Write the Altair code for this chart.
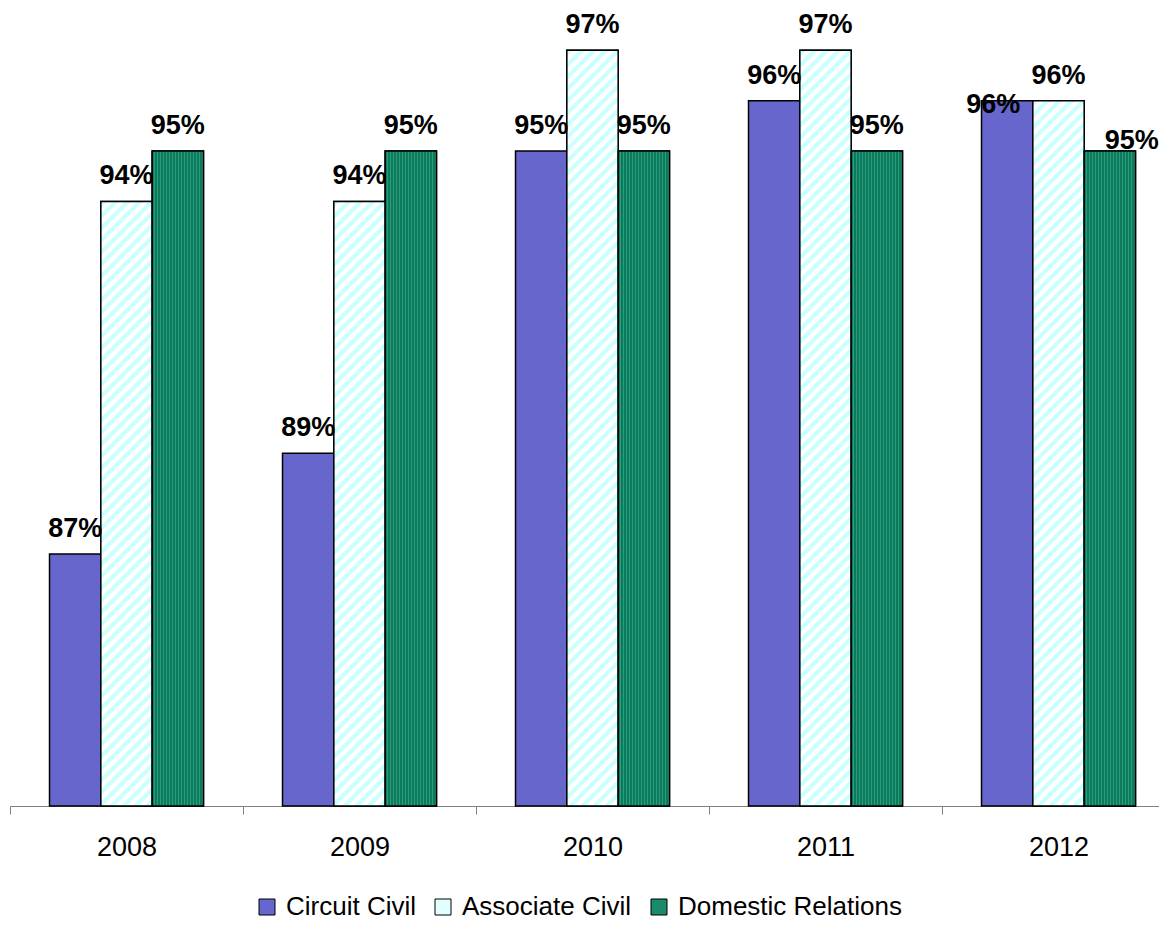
import altair as alt
import pandas as pd

years = ["2008", "2009", "2010", "2011", "2012"]
series = ["Circuit Civil", "Associate Civil", "Domestic Relations"]
circuit_civil = [87, 89, 95, 96, 96]
associate_civil = [94, 94, 97, 97, 96]
domestic_relations = [95, 95, 95, 95, 95]

rows = []
for i, y in enumerate(years):
    rows.append({"year": y, "series": series[0], "value": circuit_civil[i]})
    rows.append({"year": y, "series": series[1], "value": associate_civil[i]})
    rows.append({"year": y, "series": series[2], "value": domestic_relations[i]})
df = pd.DataFrame(rows)
df["label"] = df["value"].astype(str) + "%"

FONT = "Liberation Sans, Arial, sans-serif"
Y_MIN, Y_MAX = 82, 97.84
PLOT_W, PLOT_H = 1149, 798
X_RANGE = 1165
OFF_PAD = 0.77
step = X_RANGE / len(years)
bar_w = step / (3 + 2 * OFF_PAD)

x_enc = alt.X("year:N", sort=years,
              scale=alt.Scale(range=[0, X_RANGE], paddingInner=0, paddingOuter=0),
              axis=alt.Axis(title=None, labelAngle=0, tickBand="extent", tickSize=8,
                            labelFontSize=27, labelFont=FONT, labelColor="black",
                            domainColor="#808080", tickColor="#808080", labelPadding=20))
xo_enc = alt.XOffset("series:N", sort=series,
                     scale=alt.Scale(domain=series, paddingInner=0, paddingOuter=OFF_PAD))
y_enc = alt.Y("value:Q", scale=alt.Scale(domain=[Y_MIN, Y_MAX], zero=False, nice=False), axis=None)

base = alt.Chart(df)

bars = base.mark_bar(stroke="black", strokeWidth=1.5).encode(
    x=x_enc, xOffset=xo_enc, y=y_enc, y2=alt.datum(Y_MIN),
    color=alt.Color("series:N", sort=series,
                    scale=alt.Scale(domain=series, range=["#6666CC", "#E2FFFF", "#1A8A6C"]),
                    legend=alt.Legend(title=None, orient="none", direction="horizontal",
                                      legendX=244, legendY=886, symbolType="square",
                                      symbolSize=256, symbolStrokeColor="black",
                                      symbolStrokeWidth=1, symbolOpacity=1,
                                      labelFontSize=26, labelFont=FONT, labelColor="black",
                                      labelLimit=400, columnPadding=14, labelOffset=6,
                                      padding=0)),
)


def diag_gradient(value):
    h = (value - Y_MIN) / (Y_MAX - Y_MIN) * PLOT_H
    w = bar_w
    total = w + h
    c = total / (w * w + h * h)
    period = 12.0
    stops = []
    s = 0.0
    while s < total:
        a = s / total
        b = min((s + period / 2) / total, 1.0)
        d = min((s + period) / total, 1.0)
        stops += [{"offset": a, "color": "#CCFFFF"}, {"offset": b, "color": "#CCFFFF"},
                  {"offset": b, "color": "#FFFFFF"}, {"offset": d, "color": "#FFFFFF"}]
        s += period
    return {"gradient": "linear", "x1": 0, "y1": 0, "x2": c * w, "y2": c * h, "stops": stops}


def vert_gradient():
    period = 3.0
    stops = []
    s = 0.0
    while s < bar_w:
        a = s / bar_w
        b = min((s + period / 2) / bar_w, 1.0)
        d = min((s + period) / bar_w, 1.0)
        stops += [{"offset": a, "color": "#0B7B5E"}, {"offset": b, "color": "#0B7B5E"},
                  {"offset": b, "color": "#2E9C7C"}, {"offset": d, "color": "#2E9C7C"}]
        s += period
    return {"gradient": "linear", "x1": 0, "y1": 0, "x2": 1, "y2": 0, "stops": stops}


layers = [bars]
for v in sorted(set(associate_civil)):
    layers.append(
        base.transform_filter(
            (alt.datum.series == "Associate Civil") & (alt.datum.value == v)
        ).mark_bar(fill=diag_gradient(v), stroke="black", strokeWidth=1.5).encode(
            x=x_enc, xOffset=xo_enc, y=y_enc, y2=alt.datum(Y_MIN))
    )
layers.append(
    base.transform_filter(alt.datum.series == "Domestic Relations")
    .mark_bar(fill=vert_gradient(), stroke="black", strokeWidth=1.5)
    .encode(x=x_enc, xOffset=xo_enc, y=y_enc, y2=alt.datum(Y_MIN))
)

text_style = dict(font=FONT, fontSize=27, fontWeight="bold", color="black",
                  align="center", baseline="alphabetic")
layers.append(
    base.transform_filter(
        ~((alt.datum.year == "2012") & (alt.datum.series != "Associate Civil"))
    ).mark_text(dy=-17, **text_style).encode(x=x_enc, xOffset=xo_enc, y=y_enc, text="label:N")
)
layers.append(
    base.transform_filter(
        (alt.datum.year == "2012") & (alt.datum.series == "Circuit Civil")
    ).mark_text(dx=-14, dy=12, **text_style).encode(x=x_enc, xOffset=xo_enc, y=y_enc, text="label:N")
)
layers.append(
    base.transform_filter(
        (alt.datum.year == "2012") & (alt.datum.series == "Domestic Relations")
    ).mark_text(dx=22, dy=-2, **text_style).encode(x=x_enc, xOffset=xo_enc, y=y_enc, text="label:N")
)

chart = alt.layer(*layers).properties(
    width=PLOT_W, height=PLOT_H,
    autosize=alt.AutoSizeParams(type="none"),
    padding={"left": 2, "top": 0, "right": 0, "bottom": 116},
).configure_view(stroke=None)

chart.save("out.html", embed_options={"renderer": "svg", "actions": False})
